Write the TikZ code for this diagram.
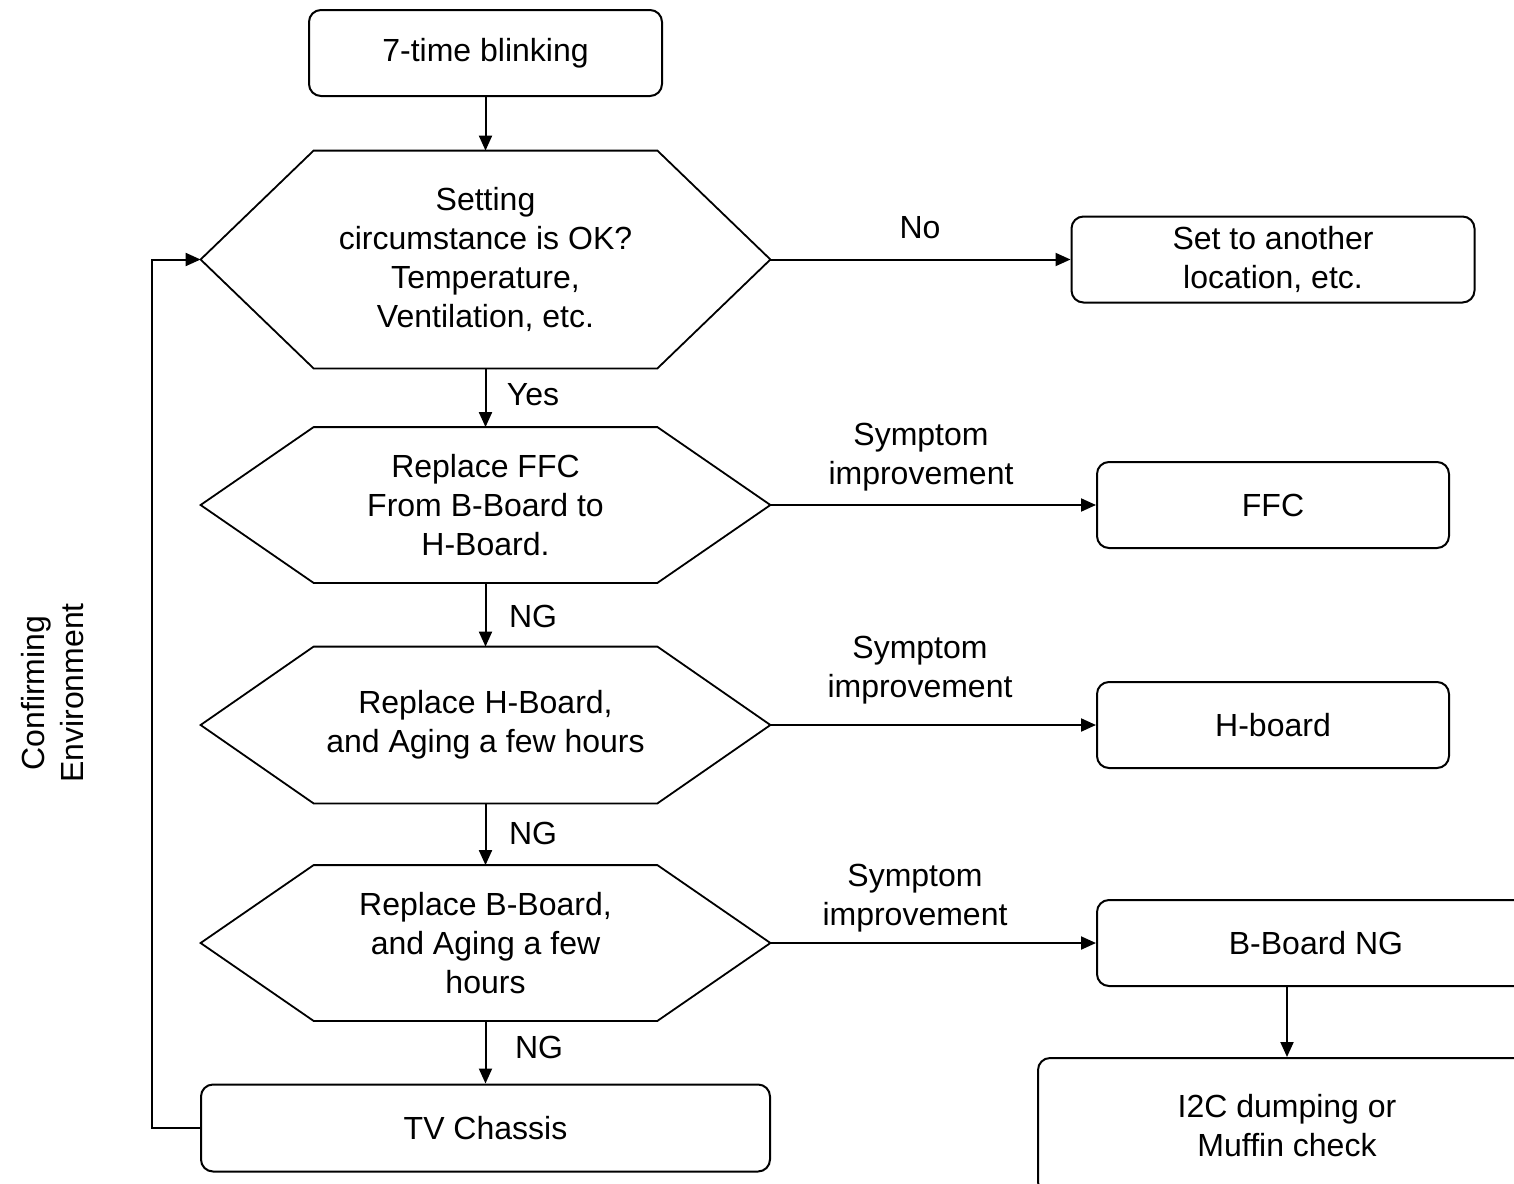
\documentclass[tikz,border=0pt]{standalone}
\usepackage{fontspec}
\setmainfont{Liberation Sans}
\usetikzlibrary{arrows.meta}

\begin{document}
\begin{tikzpicture}[x=0.5pt, y=-0.5pt,
  font=\fontsize{16}{19.5}\selectfont,
  box/.style={draw, line width=1pt, rounded corners=6pt, align=center, minimum height=43pt},
  hex/.style={align=center, minimum width=171.5pt, inner sep=0pt},
  hexline/.style={draw, line width=0.9pt},
  lbl/.style={align=center, inner sep=0pt},
  arr/.style={-{Triangle[length=7.5pt,width=6.5pt]}, line width=1pt}]
\useasboundingbox (0,0) rectangle (1514,1183);
\clip (0,0) rectangle (1514,1183);
% main column
\node[box, minimum width=176.5pt] (blink) at (485.5,53) {7-time blinking};
\node[hex, minimum height=108.5pt] (env) at (485.5,259.5) {Setting\\circumstance is OK?\\Temperature,\\Ventilation, etc.};
\node[hex, minimum height=77.5pt] (ffc) at (485.5,505) {Replace FFC\\From B-Board to\\H-Board.};
\node[hex, minimum height=78pt] (hbd) at (485.5,725) {Replace H-Board,\\and Aging a few hours};
\node[hex, minimum height=77.5pt] (bbd) at (485.5,943) {Replace B-Board,\\and Aging a few\\hours};
\node[box, minimum width=284.5pt, minimum height=43.5pt] (tv) at (485.5,1128) {TV Chassis};
\foreach \n in {env,ffc,hbd,bbd} {
  \coordinate (\n-l) at ([xshift=-56.5pt]\n.west);
  \coordinate (\n-r) at ([xshift=56.5pt]\n.east);
  \draw[hexline] (\n.north west) -- (\n.north east) -- (\n-r) -- (\n.south east)
    -- (\n.south west) -- (\n-l) -- cycle;
}
% results
\node[box, minimum width=201.5pt] (relocate) at (1273,259.5) {Set to another\\location, etc.};
\node[box, minimum width=176pt] (ffcng) at (1273,505) {FFC};
\node[box, minimum width=176pt] (hbdng) at (1273,725) {H-board};
\node[box, minimum width=219pt] (bbdng) at (1316,943) {B-Board NG};
\node[box, minimum width=249pt, minimum height=68pt] (i2c) at (1287,1126) {I2C dumping or\\Muffin check};
% labels
\node[lbl] (yes) at (533,395) {Yes};
\node[lbl] (ng1) at (533,616) {NG};
\node[lbl] (ng2) at (533,833) {NG};
\node[lbl] (ng3) at (539,1047) {NG};
\node[lbl] (no) at (920,228) {No};
\node[lbl] (sym1) at (921,457) {Symptom\\improvement};
\node[lbl] (sym2) at (920,670) {Symptom\\improvement};
\node[lbl] (sym3) at (915,898) {Symptom\\improvement};
\node[lbl, rotate=90] (confirm) at (53,693) {Confirming\\Environment};
% arrows
\draw[arr] (blink) -- (env);
\draw[arr] (env) -- (ffc);
\draw[arr] (ffc) -- (hbd);
\draw[arr] (hbd) -- (bbd);
\draw[arr] (bbd) -- (tv);
\draw[arr] (env-r) -- (relocate);
\draw[arr] (ffc-r) -- (ffcng);
\draw[arr] (hbd-r) -- (hbdng);
\draw[arr] (bbd-r) -- (bbdng);
\draw[arr] (i2c.north |- bbdng.south) -- (i2c.north);
\draw[arr] (tv.west) -- ++(-48,0) |- (env-l);
\end{tikzpicture}
\end{document}
